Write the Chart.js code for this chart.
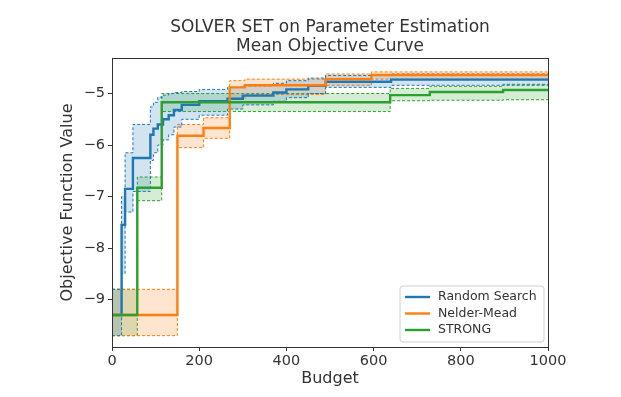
<!DOCTYPE html>
<html>
<head>
<meta charset="utf-8">
<script src="https://cdn.jsdelivr.net/npm/chart.js@4.4.1/dist/chart.umd.min.js"></script>
<style>
  body { margin: 0; background: #fff; }
  #wrap { width: 621px; height: 397px; }
</style>
</head>
<body>
<div id="wrap"><canvas id="solverChart" width="621" height="397"></canvas></div>
<script>
// ---- data (budget where each step starts) ----
const titleLines = ['SOLVER SET on Parameter Estimation', 'Mean Objective Curve'];
const solverNames = ['Random Search', 'Nelder-Mead', 'STRONG'];
const xTicks = [0, 200, 400, 600, 800, 1000];
const yTicks = [-9, -8, -7, -6, -5];

const rsBudget = [0, 22, 30, 48, 88, 95, 105, 117, 130, 142, 160, 200, 265, 300, 370, 400, 450, 490, 640, 1000];
const rsMean   = [-9.3, -7.55, -6.85, -6.25, -5.8, -5.68, -5.6, -5.5, -5.42, -5.32, -5.22, -5.15, -5.1, -5.04, -4.98, -4.92, -4.85, -4.77, -4.73, -4.73];
const rsUpper  = [-8.8, -7.0, -6.15, -5.6, -5.26, -5.17, -5.07, -5.03, -5.0, -4.98, -4.96, -4.92, -4.88, -4.85, -4.8, -4.75, -4.7, -4.65, -4.62, -4.62];
const rsLower  = [-9.7, -8.5, -7.3, -6.9, -6.3, -6.15, -6.0, -5.9, -5.8, -5.65, -5.5, -5.42, -5.3, -5.22, -5.15, -5.08, -5.0, -4.88, -4.84, -4.84];

const nmBudget = [0, 150, 210, 270, 305, 490, 595, 1000];
const nmMean   = [-9.3, -5.82, -5.67, -4.88, -4.84, -4.72, -4.64, -4.64];
const nmUpper  = [-8.8, -5.6, -5.47, -4.75, -4.72, -4.62, -4.58, -4.58];
const nmLower  = [-9.7, -6.05, -5.87, -5.1, -5.02, -4.84, -4.72, -4.72];

const stBudget = [0, 58, 114, 638, 729, 897, 1000];
const stMean   = [-9.3, -6.83, -5.17, -5.03, -4.97, -4.93, -4.93];
const stUpper  = [-8.8, -6.62, -5.0, -4.9, -4.86, -4.82, -4.82];
const stLower  = [-9.7, -7.08, -5.35, -5.14, -5.13, -5.12, -5.12];

const colors = ['#1f77b4', '#ff7f0e', '#2ca02c'];
const fills  = ['rgba(31,119,180,0.2)', 'rgba(255,127,14,0.2)', 'rgba(44,160,44,0.2)'];

// =============================================================================
// helpers
// =============================================================================
const toPoints = (xs, ys) => xs.map((x, i) => ({ x: x, y: ys[i] }));

function solverSets(idx, xs, mean, upper, lower) {
  const base = { stepped: true, pointRadius: 0, tension: 0 };
  return [
    { ...base, label: solverNames[idx], data: toPoints(xs, mean),
      borderColor: colors[idx], borderWidth: 2.4, fill: false, order: 10 - idx },
    { ...base, label: '_up' + idx, data: toPoints(xs, upper),
      borderColor: colors[idx], borderWidth: 1, borderDash: [3, 2], fill: false, order: 20 + idx },
    { ...base, label: '_lo' + idx, data: toPoints(xs, lower),
      borderColor: colors[idx], borderWidth: 1, borderDash: [3, 2],
      backgroundColor: fills[idx], fill: '-1', order: 20 + idx }
  ];
}

// title centred over the plot, box around plot, legend in the lower right corner
const framePlugin = {
  id: 'frame',
  afterDraw(chart) {
    const { ctx, chartArea: a } = chart;
    ctx.save();
    ctx.fillStyle = '#333';
    ctx.font = '17px "DejaVu Sans"';
    ctx.textAlign = 'center';
    ctx.textBaseline = 'middle';
    const cx = (a.left + a.right) / 2;
    titleLines.forEach((t, i) => ctx.fillText(t, cx, 28 + i * 18.5));

    ctx.strokeStyle = '#333';
    ctx.lineWidth = 1;
    ctx.strokeRect(a.left + 0.5, a.top + 0.5, a.right - a.left, a.bottom - a.top);

    const w = 144, h = 56, x0 = a.right - w - 4, y0 = a.bottom - h - 5;
    ctx.fillStyle = 'rgba(255,255,255,0.85)';
    ctx.strokeStyle = '#d0d0d0';
    ctx.beginPath();
    ctx.roundRect(x0, y0, w, h, 3);
    ctx.fill();
    ctx.stroke();

    ctx.font = '12.5px "DejaVu Sans"';
    ctx.textAlign = 'left';
    solverNames.forEach((name, i) => {
      const yy = y0 + 11 + i * 16.5;
      ctx.strokeStyle = colors[i];
      ctx.lineWidth = 2.4;
      ctx.beginPath();
      ctx.moveTo(x0 + 5, yy);
      ctx.lineTo(x0 + 30, yy);
      ctx.stroke();
      ctx.fillStyle = '#333';
      ctx.fillText(name, x0 + 38, yy);
    });
    ctx.restore();
  }
};

const ctx = document.getElementById('solverChart').getContext('2d');
new Chart(ctx, {
  type: 'line',
  data: {
    datasets: [
      ...solverSets(0, rsBudget, rsMean, rsUpper, rsLower),
      ...solverSets(1, nmBudget, nmMean, nmUpper, nmLower),
      ...solverSets(2, stBudget, stMean, stUpper, stLower)
    ]
  },
  options: {
    responsive: false,
    animation: false,
    layout: { padding: { left: 0, right: 73, top: 58, bottom: 0 } },
    scales: {
      x: {
        type: 'linear', min: 0, max: 1000,
        afterFit: s => { s.height = 50; },
        afterBuildTicks: s => { s.ticks = xTicks.map(v => ({ value: v })); },
        grid: { drawOnChartArea: false, drawTicks: true, tickLength: 4, color: '#333' },
        border: { display: false },
        ticks: { color: '#333', font: { family: 'DejaVu Sans', size: 14.5 }, padding: 2, maxRotation: 0,
                 callback: v => String(v) },
        title: { display: true, text: 'Budget', color: '#333',
                 font: { family: 'DejaVu Sans', size: 16 }, padding: { top: 0, bottom: 9 } }
      },
      y: {
        type: 'linear', min: -9.92, max: -4.31,
        afterFit: s => { s.width = 112; },
        afterBuildTicks: s => { s.ticks = yTicks.map(v => ({ value: v })); },
        grid: { drawOnChartArea: false, drawTicks: true, tickLength: 4, color: '#333' },
        border: { display: false },
        ticks: { color: '#333', font: { family: 'DejaVu Sans', size: 14.5 }, padding: 3,
                 callback: v => '\u2212' + Math.abs(v) },
        title: { display: true, text: 'Objective Function Value', color: '#333',
                 font: { family: 'DejaVu Sans', size: 16 }, padding: { top: 58, bottom: 0 } }
      }
    },
    plugins: {
      legend: { display: false },
      tooltip: { enabled: false },
      title: { display: false }
    }
  },
  plugins: [framePlugin]
});
</script>
</body>
</html>
